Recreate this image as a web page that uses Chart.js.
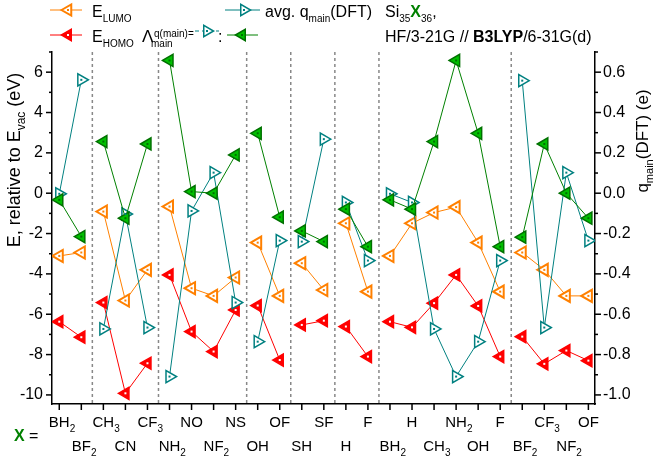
<!DOCTYPE html>
<html>
<head>
<meta charset="utf-8">
<script src="https://cdn.jsdelivr.net/npm/chart.js@4.4.0/dist/chart.umd.min.js"></script>
<style>
  body { margin: 0; background: #fff; }
  #wrap { width: 653px; height: 464px; }
</style>
</head>
<body>
<div id="wrap"><canvas id="c"></canvas></div>
<script>
const FONT = '"Liberation Sans", Arial, sans-serif';

/* ---------- data ---------- */
// substituent X in plotted order, "_" starts a subscript
const xLabels = ['BH_2', 'BF_2', 'CH_3', 'CN', 'CF_3', 'NH_2', 'NO', 'NF_2', 'NS', 'OH', 'OF', 'SH', 'SF', 'H', 'F',
                 'BH_2', 'H', 'CH_3', 'NH_2', 'OH', 'F', 'BF_2', 'CF_3', 'NF_2', 'OF'];
const groupBreaks = [1.5, 4.5, 8.5, 10.5, 12.5, 14.5, 20.5];   // dashed separators, lines break here

const eLumo = [-3.11, -2.94, -0.91, -5.32, -3.80, -0.66, -4.71, -5.09, -4.18, -2.45, -5.09, -3.47, -4.80, -1.49, -4.88,
               -3.11, -1.49, -0.96, -0.69, -2.45, -4.88, -2.94, -3.80, -5.09, -5.09];
const eHomo = [-6.37, -7.14, -5.42, -9.92, -8.43, -4.05, -6.86, -7.85, -5.79, -5.57, -8.27, -6.53, -6.32, -6.61, -8.10,
               -6.37, -6.65, -5.45, -4.05, -5.59, -8.10, -7.11, -8.46, -7.80, -8.30];
const lambdaMain = [-0.33, -2.15, 2.56, -1.24, 2.44, 6.58, 0.08, 0.00, 1.90, 2.97, -1.19, -1.87, -2.40, -0.79, -2.65,
                    -0.33, -0.79, 2.56, 6.58, 2.97, -2.65, -2.18, 2.44, 0.00, -1.24];
const qAvg = [-0.003, 0.562, -0.673, -0.103, -0.666, -0.909, -0.088, 0.102, -0.542, -0.736, -0.235, -0.240, 0.268, -0.046, -0.334,
              -0.003, -0.046, -0.673, -0.909, -0.736, -0.334, 0.558, -0.666, 0.102, -0.235];

const yTicks  = [-10, -8, -6, -4, -2, 0, 2, 4, 6];
const y2Ticks = [-1.0, -0.8, -0.6, -0.4, -0.2, 0.0, 0.2, 0.4, 0.6];

const C_ORANGE = '#FF8000';
const C_RED    = '#FF0000';
const C_TEAL   = '#008080';
const C_GREEN  = '#00C000';
const C_DKGRN  = '#007000';

/* ---------- helpers ---------- */
// points with a null between groups so the line breaks
function toPoints(vals) {
    const pts = [];
    vals.forEach((v, i) => {
        pts.push({ x: i, y: v });
        if (groupBreaks.includes(i + 0.5)) pts.push({ x: i + 0.5, y: null });
    });
    return pts;
}

function fontOf(p, size) {
    const s = p.sub || p.sup ? Math.round(size * 0.65) : size;
    return `${p.b ? 'bold ' : ''}${s}px ${FONT}`;
}

// draw text runs with sub/superscripts on one baseline
function drawRich(ctx, parts, x, y, size, align) {
    let w = 0;
    parts.forEach(p => { ctx.font = fontOf(p, size); p.w = ctx.measureText(p.t).width; w += p.w; });
    let cx = align === 'center' ? x - w / 2 : align === 'right' ? x - w : x;
    ctx.textAlign = 'left';
    ctx.textBaseline = 'alphabetic';
    parts.forEach(p => {
        ctx.font = fontOf(p, size);
        ctx.fillStyle = p.c || '#000';
        const dy = p.sub ? size * 0.3 : p.sup ? -size * 0.55 : 0;
        ctx.fillText(p.t, cx, y + dy);
        cx += p.w;
    });
}

function tri(ctx, x, y, r, rot, fill, stroke, lw, dot) {
    let a = rot * Math.PI / 180;
    ctx.beginPath();
    for (let k = 0; k < 3; k++) {
        const px = x + Math.sin(a) * r, py = y - Math.cos(a) * r;
        k ? ctx.lineTo(px, py) : ctx.moveTo(px, py);
        a += 2 * Math.PI / 3;
    }
    ctx.closePath();
    ctx.setLineDash([]);
    ctx.fillStyle = fill; ctx.fill();
    ctx.lineWidth = lw; ctx.strokeStyle = stroke; ctx.stroke();
    ctx.fillStyle = dot; ctx.fillRect(x - 1, y - 1, 2, 2);
}

function seg(ctx, x1, y1, x2, y2) {
    ctx.beginPath(); ctx.moveTo(x1, y1); ctx.lineTo(x2, y2); ctx.stroke();
}

const STYLE = {
    lumo:   { fill: '#fff',   stroke: C_ORANGE, lw: 2,   dot: C_ORANGE, rot: -90, line: C_ORANGE },
    homo:   { fill: C_RED,    stroke: C_RED,    lw: 1.5, dot: '#fff',   rot: -90, line: C_RED },
    q:      { fill: '#fff',   stroke: C_TEAL,   lw: 1.5, dot: C_TEAL,   rot: 90,  line: C_TEAL },
    lambda: { fill: C_GREEN,  stroke: C_DKGRN,  lw: 1.5, dot: C_DKGRN,  rot: -90, line: '#008000' }
};

function legendItem(ctx, st, x1, x2, y, mx, dash) {
    ctx.strokeStyle = st.line; ctx.lineWidth = 1;
    ctx.setLineDash(dash || []);
    seg(ctx, x1, y, x2, y);
    tri(ctx, mx, y, 6.5, st.rot, st.fill, st.stroke, st.lw, st.dot);
}

/* ---------- plugin: separators, ticks, labels, legend ---------- */
const decor = {
    id: 'decor',
    beforeDatasetsDraw(chart) {
        const { ctx, chartArea: a, scales: { x } } = chart;
        ctx.save();
        ctx.strokeStyle = '#888'; ctx.lineWidth = 1.5; ctx.setLineDash([3, 3]);
        groupBreaks.forEach(b => { const px = x.getPixelForValue(b); seg(ctx, px, a.top, px, a.bottom); });
        ctx.restore();
    },
    afterDatasetsDraw(chart) {
        const { ctx } = chart;
        ctx.save();
        chart.data.datasets.forEach((ds, di) => {
            chart.getDatasetMeta(di).data.forEach(el => {
                if (el.skip) return;
                ctx.fillStyle = ds.dotColor;
                ctx.fillRect(el.x - 1, el.y - 1, 2, 2);
            });
        });
        ctx.restore();
    },
    afterDraw(chart) {
        const { ctx, chartArea: a, scales: { x, y, y2 } } = chart;
        ctx.save();
        ctx.strokeStyle = '#000'; ctx.lineWidth = 1.5; ctx.setLineDash([]);

        // axis ticks (major + minor)
        for (let v = -10; v <= 7; v++) {
            const py = y.getPixelForValue(v);
            seg(ctx, a.left - (v % 2 ? 3 : 6), py, a.left, py);
        }
        for (let k = -10; k <= 7; k++) {
            const py = y2.getPixelForValue(k / 10);
            seg(ctx, a.right, py, a.right + (k % 2 ? 3 : 6), py);
        }

        // x labels in two rows
        xLabels.forEach((lab, i) => {
            const px = x.getPixelForValue(i);
            seg(ctx, px, a.bottom, px, a.bottom + 6);
            const [base, sub] = lab.split('_');
            ctx.font = `15px ${FONT}`;
            const bw = ctx.measureText(base).width;
            const parts = [{ t: base }];
            if (sub) parts.push({ t: sub, sub: true });
            drawRich(ctx, parts, px - bw / 2, i % 2 ? 451 : 427, 15, 'left');
        });
        drawRich(ctx, [{ t: 'X', b: true, c: '#008000' }, { t: ' =' }], 14, 441, 16, 'left');

        // axis titles
        ctx.save();
        ctx.translate(20, 160); ctx.rotate(-Math.PI / 2);
        drawRich(ctx, [{ t: 'E, relative to E' }, { t: 'vac', sub: true }, { t: ' (eV)' }], 0, 0, 18, 'center');
        ctx.restore();
        ctx.save();
        ctx.translate(648, 141); ctx.rotate(-Math.PI / 2);
        drawRich(ctx, [{ t: 'q' }, { t: 'main', sub: true }, { t: '(DFT) (e)' }], 0, 0, 17, 'center');
        ctx.restore();

        // legend
        legendItem(ctx, STYLE.lumo, 50, 82, 10, 68);
        drawRich(ctx, [{ t: 'E' }, { t: 'LUMO', sub: true }], 92, 17, 16, 'left');
        legendItem(ctx, STYLE.homo, 50, 82, 35, 68);
        drawRich(ctx, [{ t: 'E' }, { t: 'HOMO', sub: true }], 92, 42, 16, 'left');

        drawRich(ctx, [{ t: 'Λ' }], 142, 42, 17, 'left');
        drawRich(ctx, [{ t: 'q(main)=', sub: true }], 154, 32, 16, 'left');
        drawRich(ctx, [{ t: 'main', sub: true }], 151, 42, 16, 'left');
        legendItem(ctx, STYLE.q, 195, 219, 31, 207, [4, 3]);
        drawRich(ctx, [{ t: ':' }], 218, 42, 16, 'left');
        legendItem(ctx, STYLE.lambda, 227, 258, 35, 242);

        legendItem(ctx, STYLE.q, 225, 260, 10, 244);
        drawRich(ctx, [{ t: 'avg. q' }, { t: 'main', sub: true }, { t: '(DFT)' }], 265, 17, 16, 'left');

        drawRich(ctx, [{ t: 'Si' }, { t: '35', sub: true }, { t: 'X', b: true, c: '#008000' }, { t: '36', sub: true }, { t: ',' }],
                 385, 17, 16, 'left');
        drawRich(ctx, [{ t: 'HF/3-21G // ' }, { t: 'B3LYP', b: true }, { t: '/6-31G(d)' }], 385, 42, 16, 'left');
        ctx.restore();
    }
};

/* ---------- chart ---------- */
function series(label, vals, st, axis) {
    return {
        label,
        data: toPoints(vals),
        yAxisID: axis,
        borderColor: st.line,
        borderWidth: 1,
        pointStyle: 'triangle',
        pointRotation: st.rot,
        pointRadius: 7,
        pointBackgroundColor: st.fill,
        pointBorderColor: st.stroke,
        pointBorderWidth: st.lw,
        dotColor: st.dot,
        spanGaps: false
    };
}

const axisFont = { family: FONT, size: 16 };

new Chart(document.getElementById('c'), {
    type: 'line',
    data: {
        datasets: [
            series('Λ', lambdaMain, STYLE.lambda, 'y'),
            series('avg. q main (DFT)', qAvg, STYLE.q, 'y2'),
            series('E HOMO', eHomo, STYLE.homo, 'y'),
            series('E LUMO', eLumo, STYLE.lumo, 'y')
        ]
    },
    options: {
        responsive: true,
        maintainAspectRatio: false,
        animation: false,
        layout: { padding: { top: 52, left: 0, right: 0, bottom: 0 } },
        plugins: { legend: { display: false }, tooltip: { enabled: false } },
        scales: {
            x: {
                type: 'linear', min: -0.33, max: 24.3,
                grid: { display: false },
                border: { display: true, color: '#000', width: 1.5 },
                ticks: { display: false },
                afterFit: s => { s.height = 60; }
            },
            y: {
                position: 'left', min: -10.45, max: 7.0,
                grid: { drawOnChartArea: false, drawTicks: false },
                border: { display: true, color: '#000', width: 1.5 },
                ticks: { color: '#000', font: axisFont, padding: 9 },
                afterBuildTicks: s => { s.ticks = yTicks.map(v => ({ value: v })); },
                afterFit: s => { s.width = 52; }
            },
            y2: {
                position: 'right', min: -1.045, max: 0.70,
                grid: { drawOnChartArea: false, drawTicks: false },
                border: { display: true, color: '#000', width: 1.5 },
                ticks: { color: '#000', font: axisFont, padding: 8, callback: v => v.toFixed(1) },
                afterBuildTicks: s => { s.ticks = y2Ticks.map(v => ({ value: v })); },
                afterFit: s => { s.width = 58; }
            }
        }
    },
    plugins: [decor]
});
</script>
</body>
</html>
